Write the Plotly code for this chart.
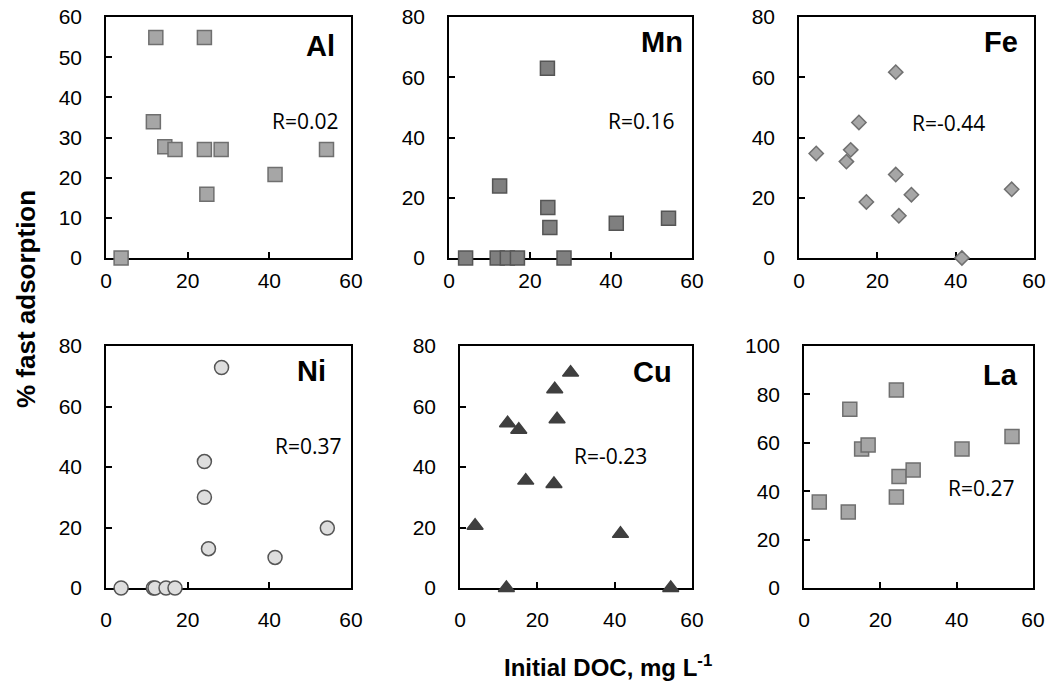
import plotly.graph_objects as go

## Data: initial DOC (mg/L) vs % fast adsorption
al_doc = [3.7, 11.6, 12.2, 14.4, 16.9, 24.1, 24.1, 24.7, 28.2, 41.4, 54.0]
al_fast = [0, 33.9, 54.9, 27.7, 27.0, 54.9, 27.0, 15.9, 27.0, 20.8, 27.0]

mn_doc = [4.1, 11.9, 12.5, 14.4, 16.9, 24.3, 24.4, 24.9, 28.4, 41.3, 54.2]
mn_fast = [0, 0, 23.9, 0, 0, 63.0, 16.8, 10.1, 0, 11.5, 13.2]

fe_doc = [4.4, 12.1, 13.2, 15.3, 17.2, 24.7, 24.7, 25.5, 28.7, 41.6, 54.3]
fe_fast = [34.7, 32.0, 35.9, 45.0, 18.6, 61.7, 27.7, 14.0, 21.0, 0, 22.8]

ni_doc = [3.7, 11.6, 12.0, 14.7, 16.9, 24.1, 24.1, 25.1, 28.3, 41.4, 54.2]
ni_fast = [0, 0, 0, 0, 0, 41.8, 30.0, 13.0, 72.9, 10.1, 19.8]

cu_doc = [3.9, 12.0, 12.3, 15.2, 17.0, 24.5, 25.1, 24.3, 28.6, 41.5, 54.5]
cu_fast = [20.6, 0, 54.5, 52.3, 35.5, 65.7, 55.8, 34.4, 71.2, 17.9, 0]

la_doc = [4.0, 11.6, 12.0, 15.1, 16.8, 24.2, 24.2, 24.9, 28.6, 41.4, 54.5]
la_fast = [35.5, 31.4, 73.9, 57.4, 59.1, 81.8, 37.6, 46.1, 48.8, 57.4, 62.6]

metals = ['Al', 'Mn', 'Fe', 'Ni', 'Cu', 'La']
r_labels = ['R=0.02', 'R=0.16', 'R=-0.44', 'R=0.37', 'R=-0.23', 'R=0.27']
y_max = [60, 80, 80, 80, 80, 100]
y_step = [10, 20, 20, 20, 20, 20]

## Styling
# the page body keeps its default 8px margin, so the figure is 8px smaller
# and all pixel positions below are page pixels shifted by that margin
PAGE_PAD = 8
W, H = 1054 - PAGE_PAD, 686 - PAGE_PAD
tick_font = dict(family='Arial, Liberation Sans', size=21, color='black')
label_font = dict(family='Arial, Liberation Sans', size=29, color='black')
title_font = dict(family='Arial, Liberation Sans', size=26, color='black')
r_font = dict(family='Open Sans, Noto Sans', size=21, color='black')

# symbol, fill, outline, size
marker_styles = [
    ('square', '#a6a6a6', '#6f6f6f', 14),
    ('square', '#7f7f7f', '#555555', 14),
    ('diamond', '#a6a6a6', '#707070', 11),
    ('circle', '#dedede', '#555555', 14),
    ('triangle-up', '#3f3f3f', '#3f3f3f', 14),
    ('square', '#a6a6a6', '#6f6f6f', 14),
]

# plot areas in page pixels: left, right, top, bottom
boxes = [
    (106, 351, 17, 258), (449, 692, 17, 258), (799, 1034, 17, 258),
    (106, 351, 346, 588), (460, 692, 346, 588), (804, 1033, 346, 588),
]
x_standoff = [3, 3, 3, 12, 12, 12]
# centres of the metal label and the R text, page pixels
label_pos = [(320, 46), (662, 42), (1001, 42), (311, 371), (652, 372), (1000, 375)]
r_pos = [(305, 121), (641, 121), (948, 123), (308, 446), (610, 456), (982, 488)]


def px(x):
    return (x - PAGE_PAD) / W


def py(y):
    return 1 - (y - PAGE_PAD) / H


series = [(al_doc, al_fast), (mn_doc, mn_fast), (fe_doc, fe_fast),
          (ni_doc, ni_fast), (cu_doc, cu_fast), (la_doc, la_fast)]

fig = go.Figure()
annotations = []
for i, (doc, fast) in enumerate(series):
    n = '' if i == 0 else str(i + 1)
    symbol, fill, outline, size = marker_styles[i]
    fig.add_trace(go.Scatter(
        x=doc, y=fast, mode='markers', xaxis='x' + n, yaxis='y' + n,
        cliponaxis=False, showlegend=False,
        marker=dict(symbol=symbol, color=fill, size=size,
                    line=dict(color=outline, width=1.5))
    ))
    left, right, top, bottom = boxes[i]
    axis_common = dict(
        showgrid=False, zeroline=False, showline=True, linecolor='black',
        linewidth=1.5, mirror=True, ticks='inside', ticklen=6, tickwidth=1.5,
        tickcolor='black', tickfont=tick_font, automargin=False,
        ticklabeloverflow='allow', layer='below traces', fixedrange=True
    )
    fig.layout['xaxis' + n] = dict(
        axis_common, domain=[px(left), px(right)], range=[0, 60], dtick=20,
        anchor='y' + n, ticklabelstandoff=x_standoff[i]
    )
    fig.layout['yaxis' + n] = dict(
        axis_common, domain=[py(bottom), py(top)], range=[0, y_max[i]],
        dtick=y_step[i], anchor='x' + n, ticklabelstandoff=18
    )
    lx, ly = label_pos[i]
    annotations.append(dict(
        text='<b>%s</b>' % metals[i], x=px(lx), y=py(ly), xref='paper', yref='paper',
        showarrow=False, xanchor='center', yanchor='middle', font=label_font
    ))
    rx, ry = r_pos[i]
    annotations.append(dict(
        text=r_labels[i], x=px(rx), y=py(ry), xref='paper', yref='paper',
        showarrow=False, xanchor='center', yanchor='middle', font=r_font
    ))

annotations.append(dict(
    text='<b>% fast adsorption</b>', x=px(26), y=py(299), xref='paper', yref='paper',
    showarrow=False, textangle=-90, xanchor='center', yanchor='middle',
    font=title_font
))
annotations.append(dict(
    text='<b>Initial DOC, mg L<sup>-1</sup></b>', x=px(608), y=py(666),
    xref='paper', yref='paper', showarrow=False, xanchor='center', yanchor='middle',
    font=dict(title_font, size=24)
))

fig.update_layout(
    width=W, height=H,
    margin=dict(l=0, r=0, t=0, b=0),
    paper_bgcolor='white',
    plot_bgcolor='white',
    annotations=annotations,
    dragmode=False
)

fig.write_html('out.html')
